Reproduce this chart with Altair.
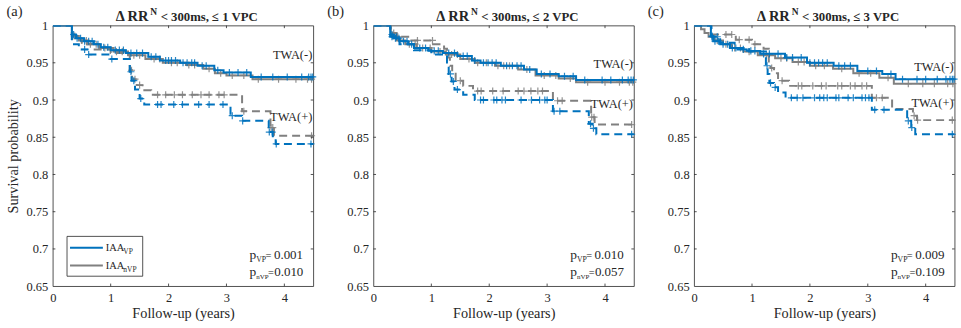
import altair as alt
import pandas as pd

FONT = "Liberation Serif"
BLUE = "#0072BD"
GRAY = "#808080"
INK = "#262626"
W, H = 261.6, 261.7

x_ticks = [0, 1, 2, 3, 4]
y_ticks = [0.65, 0.7, 0.75, 0.8, 0.85, 0.9, 0.95, 1.0]

# ---------------- panel (a) ----------------
a_vp_neg_t = [0, 0.33, 0.40, 0.54, 0.71, 0.83, 1.00, 1.26, 1.65, 1.85, 2.20, 2.50, 2.79, 2.95, 3.42, 4.5]
a_vp_neg_s = [1, 0.988, 0.983, 0.979, 0.975, 0.971, 0.967, 0.963, 0.958, 0.953, 0.950, 0.946, 0.940, 0.937, 0.931, 0.931]
a_vp_neg_c = [0.36, 0.42, 0.48, 0.55, 0.62, 0.68, 0.78, 0.88, 0.95, 1.08, 1.15, 1.22, 1.35, 1.45, 1.55, 1.70,
              1.78, 1.95, 2.00, 2.05, 2.12, 2.25, 2.32, 2.40, 2.45, 2.58, 2.65, 2.85, 3.05, 3.20, 3.35, 3.60,
              3.80, 4.05, 4.30, 4.42, 4.46, 4.49]
a_nvp_neg_t = [0, 0.33, 0.45, 0.60, 0.80, 1.05, 1.30, 1.60, 1.90, 2.30, 2.60, 2.80, 3.00, 3.45, 4.5]
a_nvp_neg_s = [1, 0.986, 0.980, 0.975, 0.970, 0.965, 0.960, 0.955, 0.950, 0.947, 0.942, 0.936, 0.933, 0.928, 0.928]
a_nvp_neg_c = [0.38, 0.50, 0.58, 0.65, 0.75, 0.90, 1.10, 1.20, 1.40, 1.50, 1.75, 1.85, 2.05, 2.15, 2.35, 2.45,
               2.70, 2.90, 3.10, 3.30, 3.55, 3.90, 4.20, 4.40, 4.47]
a_vp_pos_t = [0, 0.33, 0.45, 0.60, 1.00, 1.33, 1.36, 1.42, 1.50, 1.58, 3.07, 3.27, 3.73, 3.80, 3.85, 4.5]
a_vp_pos_s = [1, 0.975, 0.968, 0.961, 0.955, 0.938, 0.926, 0.914, 0.902, 0.894, 0.879, 0.872, 0.857, 0.850, 0.841, 0.841]
a_vp_pos_c = [0.55, 0.62, 1.02, 1.35, 1.40, 1.52, 1.81, 1.87, 2.09, 2.24, 2.52, 2.70, 2.94, 3.10, 3.28, 3.74,
              3.79, 3.86, 4.46]
a_nvp_pos_t = [0, 0.33, 0.50, 0.70, 1.00, 1.33, 1.37, 1.45, 1.55, 1.70, 3.27, 3.76, 3.82, 4.5]
a_nvp_pos_s = [1, 0.982, 0.975, 0.968, 0.963, 0.940, 0.928, 0.920, 0.913, 0.907, 0.885, 0.863, 0.852, 0.852]
a_nvp_pos_c = [1.36, 1.42, 1.50, 1.81, 1.95, 2.10, 2.24, 2.41, 2.56, 2.70, 2.87, 2.96, 3.30, 3.77, 3.80, 4.47]

# ---------------- panel (b) ----------------
b_vp_neg_t = [0, 0.29, 0.35, 0.45, 0.60, 0.70, 0.95, 1.20, 1.45, 1.70, 1.85, 2.20, 2.60, 2.82, 3.20, 3.50, 4.5]
b_vp_neg_s = [1, 0.988, 0.983, 0.979, 0.975, 0.970, 0.966, 0.963, 0.959, 0.953, 0.950, 0.946, 0.941, 0.935, 0.932, 0.927, 0.927]
b_vp_neg_c = [0.32, 0.38, 0.44, 0.52, 0.58, 0.66, 0.80, 0.90, 1.05, 1.12, 1.30, 1.40, 1.55, 1.62, 1.75, 1.90,
              1.98, 2.05, 2.12, 2.30, 2.40, 2.48, 2.55, 2.70, 2.90, 3.05, 3.30, 3.45, 3.65, 3.95, 4.10, 4.30,
              4.40, 4.45, 4.49]
b_nvp_neg_t = [0, 0.30, 0.40, 0.55, 0.75, 1.00, 1.25, 1.50, 1.75, 2.10, 2.50, 2.80, 3.20, 3.50, 4.5]
b_nvp_neg_s = [1, 0.986, 0.980, 0.975, 0.970, 0.965, 0.961, 0.955, 0.950, 0.946, 0.941, 0.933, 0.929, 0.924, 0.924]
b_nvp_neg_c = [0.34, 0.46, 0.62, 0.72, 0.85, 0.98, 1.15, 1.35, 1.45, 1.65, 1.80, 1.95, 2.15, 2.25, 2.35, 2.65,
               2.95, 3.15, 3.40, 3.70, 4.00, 4.25, 4.42, 4.48]
b_vp_pos_t = [0, 0.29, 0.45, 0.70, 1.00, 1.27, 1.30, 1.35, 1.40, 1.55, 1.75, 3.10, 3.72, 3.78, 3.85, 4.5]
b_vp_pos_s = [1, 0.985, 0.975, 0.967, 0.961, 0.945, 0.935, 0.925, 0.914, 0.907, 0.900, 0.885, 0.868, 0.862, 0.854, 0.854]
b_vp_pos_c = [0.32, 0.40, 1.33, 1.38, 1.45, 1.85, 1.90, 2.08, 2.13, 2.22, 2.28, 2.55, 2.73, 2.87, 2.96, 3.00,
              3.12, 3.22, 3.75, 3.80, 4.46]
b_nvp_pos_t = [0, 0.30, 0.40, 0.60, 1.03, 1.22, 1.27, 1.32, 1.36, 1.42, 1.55, 1.72, 3.10, 3.76, 3.82, 4.5]
b_nvp_pos_s = [1, 0.990, 0.985, 0.980, 0.975, 0.969, 0.957, 0.946, 0.937, 0.926, 0.919, 0.912, 0.899, 0.877, 0.867, 0.867]
b_nvp_pos_c = [0.35, 0.42, 0.76, 1.02, 1.50, 1.80, 1.86, 2.06, 2.24, 2.50, 2.60, 2.72, 2.84, 2.92, 3.18, 3.26,
               3.77, 3.81, 4.46]

# ---------------- panel (c) ----------------
c_vp_neg_t = [0, 0.29, 0.33, 0.45, 0.62, 0.75, 0.91, 1.14, 1.57, 1.95, 2.41, 2.82, 3.25, 3.48, 4.5]
c_vp_neg_s = [1, 0.986, 0.979, 0.975, 0.970, 0.968, 0.966, 0.962, 0.957, 0.950, 0.946, 0.939, 0.935, 0.928, 0.928]
c_vp_neg_c = [0.31, 0.36, 0.42, 0.50, 0.58, 0.66, 0.72, 0.85, 0.98, 1.05, 1.20, 1.30, 1.45, 1.60, 1.70, 1.85,
              2.00, 2.08, 2.15, 2.22, 2.30, 2.50, 2.60, 2.70, 3.00, 3.15, 3.40, 3.60, 3.85, 4.00, 4.20, 4.35,
              4.42, 4.46, 4.49]
c_nvp_neg_t = [0, 0.12, 0.18, 0.25, 0.35, 0.50, 0.65, 0.85, 1.10, 1.40, 1.70, 2.00, 2.40, 2.75, 3.20, 3.45, 4.5]
c_nvp_neg_s = [1, 0.995, 0.990, 0.985, 0.980, 0.975, 0.970, 0.965, 0.960, 0.956, 0.951, 0.946, 0.942, 0.936, 0.930, 0.922, 0.922]
c_nvp_neg_c = [0.40, 0.55, 0.70, 0.80, 0.95, 1.25, 1.50, 1.60, 1.80, 1.90, 2.10, 2.25, 2.55, 2.85, 3.05, 3.35,
               3.70, 3.95, 4.15, 4.38, 4.47]
c_vp_pos_t = [0, 0.30, 0.45, 0.70, 0.95, 1.24, 1.27, 1.30, 1.38, 1.45, 1.58, 3.07, 3.68, 3.75, 3.82, 4.5]
c_vp_pos_s = [1, 0.985, 0.977, 0.970, 0.965, 0.946, 0.935, 0.923, 0.917, 0.910, 0.903, 0.887, 0.872, 0.863, 0.854, 0.854]
c_vp_pos_c = [0.31, 0.40, 1.26, 1.32, 1.40, 1.68, 1.78, 1.88, 2.08, 2.17, 2.24, 2.30, 2.45, 2.50, 2.66, 2.75,
              2.90, 2.96, 3.02, 3.12, 3.28, 3.70, 3.76, 4.46]
c_nvp_pos_t = [0, 0.29, 0.72, 1.00, 1.20, 1.29, 1.32, 1.38, 1.45, 1.64, 3.07, 3.42, 3.78, 3.85, 4.5]
c_nvp_pos_s = [1, 0.988, 0.981, 0.975, 0.969, 0.950, 0.943, 0.936, 0.926, 0.919, 0.903, 0.888, 0.879, 0.873, 0.873]
c_nvp_pos_c = [0.55, 0.65, 0.78, 0.95, 1.05, 1.34, 1.52, 1.80, 1.86, 2.05, 2.20, 2.28, 2.48, 2.55, 2.70, 2.78,
               2.90, 2.98, 3.15, 3.25, 3.80, 3.86, 4.46]

panel_tags = ["(a)", "(b)", "(c)"]
panel_vpc = ["1", "2", "3"]
p_vp = ["0.001", "0.010", "0.009"]
p_nvp = ["0.010", "0.057", "0.109"]
twa_neg_y = [0.960, 0.948, 0.944]
twa_pos_y = [0.8775, 0.8945, 0.8966]

ONE = pd.DataFrame({"k": [0]})
PLUS = "M-1,0L1,0M0,-1L0,1"


def step_at(ts, ss, c):
    v = ss[0]
    for t, s in zip(ts, ss):
        if t <= c:
            v = s
    return v


def txt(s, x, y, size=12.5, weight="normal", align="left", baseline="alphabetic"):
    return alt.Chart(ONE).mark_text(
        font=FONT, fontSize=size, fontWeight=weight, align=align,
        baseline=baseline, color=INK
    ).encode(x=alt.value(x), y=alt.value(y), text=alt.value(s))


def make_panel(i, series, first):
    xs = alt.Scale(domain=[0, 4.5], nice=False, zero=False)
    ys = alt.Scale(domain=[0.65, 1.0], nice=False, zero=False)
    xax = alt.Axis(values=x_ticks, format="d", title="Follow-up (years)",
                   labelPadding=5, titlePadding=3, labelFlush=False)
    if first:
        yax = alt.Axis(values=y_ticks, format=".2~f", title="Survival probability",
                       labelPadding=5, titlePadding=6, labelFlush=False)
    else:
        yax = alt.Axis(values=y_ticks, format=".2~f", title=None, labelPadding=5, labelFlush=False)
    X = lambda f: alt.X(f, type="quantitative", scale=xs, axis=xax)
    Y = lambda f: alt.Y(f, type="quantitative", scale=ys, axis=yax)

    layers = []
    for (ts, ss, cs, color, dashed) in series:
        df = pd.DataFrame({"t": ts, "s": ss})
        kw = dict(color=color, strokeWidth=2, interpolate="step-after", clip=True)
        if dashed:
            kw["strokeDash"] = [8, 5]
        layers.append(alt.Chart(df).mark_line(**kw).encode(x=X("t"), y=Y("s")))
        cdf = pd.DataFrame({"t": cs, "s": [step_at(ts, ss, c) for c in cs]})
        layers.append(alt.Chart(cdf).mark_point(
            shape=PLUS, filled=False, color=color, strokeWidth=1.2, size=50, opacity=0.85
        ).encode(x=X("t"), y=Y("s")))

    # inward ticks (box style)
    xt = pd.DataFrame({"t": x_ticks[1:]})
    yt = pd.DataFrame({"s": y_ticks[1:-1]})
    layers.append(alt.Chart(xt).mark_rule(color=INK, strokeWidth=0.8).encode(
        x=X("t"), y=alt.value(H), y2=alt.value(H - 2.6)))
    layers.append(alt.Chart(xt).mark_rule(color=INK, strokeWidth=0.8).encode(
        x=X("t"), y=alt.value(0), y2=alt.value(2.6)))
    layers.append(alt.Chart(yt).mark_rule(color=INK, strokeWidth=0.8).encode(
        y=Y("s"), x=alt.value(0), x2=alt.value(2.6)))
    layers.append(alt.Chart(yt).mark_rule(color=INK, strokeWidth=0.8).encode(
        y=Y("s"), x=alt.value(W), x2=alt.value(W - 2.6)))

    # TWA labels
    tw = pd.DataFrame({"t": [4.5, 4.5], "s": [twa_neg_y[i], twa_pos_y[i]], "lab": ["TWA(-)", "TWA(+)"]})
    layers.append(alt.Chart(tw).mark_text(font=FONT, fontSize=12.5, align="right",
                                          baseline="middle", color=INK, dx=-1).encode(
        x=X("t"), y=Y("s"), text="lab:N"))

    # p-values
    layers += [
        txt("p", 197.6, 234, size=13.5),
        txt("VP", 204.3, 237, size=7.8),
        txt("=", 213.6, 234, size=10.5),
        txt(p_vp[i], 251.3, 234, size=13, align="right"),
        txt("p", 197.6, 251.5, size=13.5),
        txt("nVP", 204.3, 254.5, size=7.0),
        txt("=", 216.2, 251.5, size=10.5),
        txt(p_nvp[i], 251.6, 251.5, size=13, align="right"),
    ]

    # title
    layers += [
        txt("\u0394 RR", 96.0, -5, size=14.5, weight="bold", align="right"),
        txt("N", 98.0, -10.5, size=9.5, weight="bold"),
        txt("< 300ms, \u2264 " + panel_vpc[i] + " VPC", 108.3, -5, size=12.8, weight="bold"),
        txt(panel_tags[i], -46.5, -9.5, size=14.5),
    ]

    if first:
        layers += [
            alt.Chart(ONE).mark_rect(fill="white", stroke=INK, strokeWidth=0.8).encode(
                x=alt.value(14.3), x2=alt.value(90.3), y=alt.value(211.7), y2=alt.value(251.7)),
            alt.Chart(ONE).mark_rule(color=BLUE, strokeWidth=2).encode(
                x=alt.value(17.3), x2=alt.value(50.3), y=alt.value(223)),
            alt.Chart(ONE).mark_rule(color=GRAY, strokeWidth=2).encode(
                x=alt.value(17.3), x2=alt.value(50.3), y=alt.value(241)),
            txt("IAA", 53.3, 226.7, size=10.5),
            txt("VP", 70.8, 229.2, size=7.5),
            txt("IAA", 53.3, 244.6, size=10.5),
            txt("nVP", 70.8, 247.1, size=7.5),
            alt.Chart(ONE).mark_rule(strokeOpacity=0, strokeWidth=0.1).encode(
                x=alt.value(-51.7), x2=alt.value(-51.5), y=alt.value(-24.3), y2=alt.value(-24.3)),
        ]

    return alt.layer(*layers).properties(width=W, height=H)


def series_for(p):
    g = globals()
    out = []
    for grp, color in (("nvp", GRAY), ("vp", BLUE)):
        for twa, dashed in (("pos", True), ("neg", False)):
            pre = f"{p}_{grp}_{twa}_"
            out.append((g[pre + "t"], g[pre + "s"], g[pre + "c"], color, dashed))
    return out


panels = [make_panel(i, series_for(p), i == 0) for i, p in enumerate(["a", "b", "c"])]

chart = alt.hconcat(*panels, spacing=60, bounds="flush").properties(
    padding={"left": 0, "top": 0, "right": 0, "bottom": 0}
).configure_view(
    stroke=INK, strokeWidth=0.8
).configure_axis(
    labelFont=FONT, titleFont=FONT, labelColor=INK, titleColor=INK,
    labelFontSize=12.5, titleFontSize=14.3, titleFontWeight="normal",
    grid=False, domain=False, ticks=False
)

chart.save("out.html", embed_options={"renderer": "svg", "actions": False})
